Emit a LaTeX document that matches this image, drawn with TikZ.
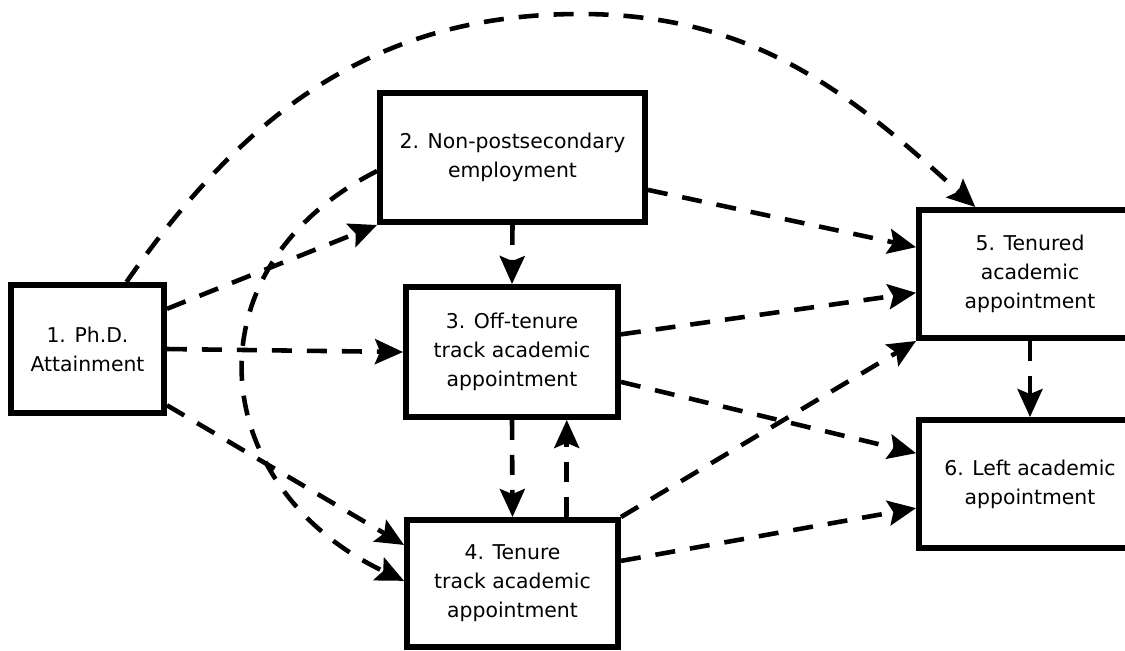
\documentclass[tikz,border=0pt]{standalone}
\usepackage{fontspec}
\setmainfont{DejaVu Sans}
\usetikzlibrary{arrows.meta, calc}

\begin{document}
\begin{tikzpicture}[x=0.02cm, y=-0.02cm,
        box/.style={rectangle, draw, line width=3.4pt, align=center, inner sep=0pt, font=\fontsize{11.6pt}{16.5pt}\selectfont},
        flow/.style={-{Stealth[length=0.56cm, width=0.5cm, inset=0.1cm]}, line width=2.6pt, dash pattern=on 0.4cm off 0.3cm}]
        \useasboundingbox (0,0) rectangle (1125,650);

        \node[box, minimum width=3.06cm, minimum height=2.56cm] (phd) at (87.5,349) {1. Ph.D.\\Attainment};
        \node[box, minimum width=5.3cm, minimum height=2.58cm] (nonpost) at (512.5,157.5) {2. Non-postsecondary\\employment};
        \node[box, minimum width=4.24cm, minimum height=2.6cm] (offtrack) at (512,352) {3. Off-tenure\\track academic\\appointment};
        \node[box, minimum width=4.22cm, minimum height=2.54cm] (tentrack) at (512.5,583.5) {4. Tenure\\track academic\\appointment};
        \node[box, minimum width=4.44cm, minimum height=2.56cm] (tenured) at (1030,274) {5. Tenured\\academic\\appointment};
        \node[box, minimum width=4.44cm, minimum height=2.56cm] (leftacad) at (1030,484) {6. Left academic\\appointment};

        % from 1
        \coordinate (arctop) at (580,14);
        \draw[flow] ($(phd.north west)!0.745!(phd.north east)$) .. controls (243,115) and (373,14) .. (arctop)
            .. controls (753,14) and (849,92) .. ($(tenured.north west)!0.26!(tenured.north east)$);
        \draw[flow] ($(phd.north east)!0.2!(phd.south east)$) -- (nonpost.south west);
        \draw[flow] (phd.east) -- (offtrack.west);
        \draw[flow] ($(phd.north east)!0.92!(phd.south east)$) -- ($(tentrack.north west)!0.21!(tentrack.south west)$);

        % from 2
        \draw[flow] ($(nonpost.north west)!0.6!(nonpost.south west)$) .. controls (184,269) and (207,488) .. ($(tentrack.north west)!0.48!(tentrack.south west)$);
        \draw[flow] (nonpost.south) -- (offtrack.north);
        \draw[flow] ($(nonpost.north east)!0.74!(nonpost.south east)$) -- ($(tenured.north west)!0.3!(tenured.south west)$);

        % from 3
        \draw[flow] ($(offtrack.north east)!0.37!(offtrack.south east)$) -- ($(tenured.north west)!0.64!(tenured.south west)$);
        \draw[flow] ($(offtrack.north east)!0.72!(offtrack.south east)$) -- ($(leftacad.north west)!0.27!(leftacad.south west)$);
        \draw[flow] (offtrack.south) -- (tentrack.north);

        % from 4
        \coordinate (upstart) at ($(tentrack.north west)!0.75!(tentrack.north east)$);
        \draw[flow] (upstart) -- (upstart |- offtrack.south);
        \draw[flow] (tentrack.north east) -- (tenured.south west);
        \draw[flow] ($(tentrack.north east)!0.33!(tentrack.south east)$) -- ($(leftacad.north west)!0.68!(leftacad.south west)$);

        % from 5
        \draw[flow] (tenured.south) -- (leftacad.north);
    \end{tikzpicture}
\end{document}
